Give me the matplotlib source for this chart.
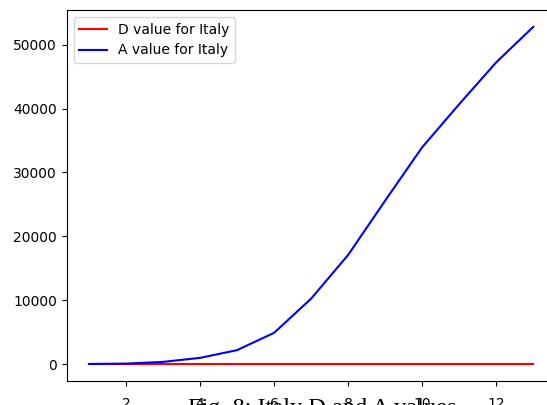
import matplotlib.pyplot as plt

# Days (x) and values
days = [1, 2, 3, 4, 5, 6, 7, 8, 9, 10, 11, 12, 13]
d_values = [0, 0, 0, 0, 0, 0, 0, 0, 0, 0, 0, 0, 0]
a_values = [20, 80, 350, 980, 2190, 4900, 10250, 17100, 25600, 33950, 40700, 47250, 52800]

fig = plt.figure(figsize=(5.47, 4.05), dpi=100)
# axes run past the right edge, as in the cropped original
ax = fig.add_axes([0.1221, 0.0593, 0.8934, 0.916])

ax.plot(days, d_values, color='red', label='D value for Italy')
ax.plot(days, a_values, color='blue', label='A value for Italy')
ax.legend(loc='upper left')
ax.tick_params(axis='x', pad=8)

# caption from the source document, cut off at the bottom
fig.text(188 / 547, -9 / 405, "Fig. 8: Italy D and A values",
         family='Liberation Serif', fontsize=17.5, ha='left', va='baseline')

fig.savefig('out.png', dpi=100)
